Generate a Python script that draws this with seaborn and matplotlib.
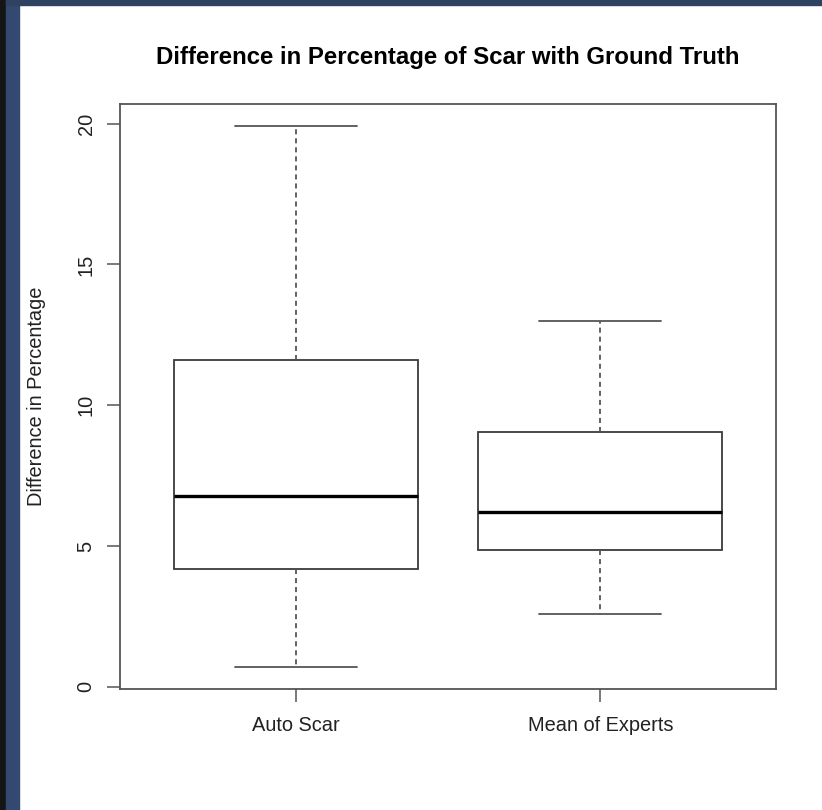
import pandas as pd
import matplotlib.pyplot as plt
import seaborn as sns
from matplotlib.patches import Rectangle

# Valeurs (min, Q1, médiane, Q3, max)
groupes = ["Auto Scar", "Mean of Experts"]
auto_scar = [0.69, 4.20, 6.78, 11.62, 19.93]
mean_experts = [2.57, 4.85, 6.19, 9.05, 13.00]
yticks = [0, 5, 10, 15, 20]

df = pd.DataFrame({
    "groupe": [groupes[0]] * len(auto_scar) + [groupes[1]] * len(mean_experts),
    "diff": auto_scar + mean_experts,
})

sns.set_theme(style="ticks")
plt.rcParams['font.family'] = ['Liberation Sans', 'DejaVu Sans']

fig = plt.figure(figsize=(8.22, 8.10), dpi=100)
fig.patch.set_facecolor("white")
ax = fig.add_axes([120/822, 1 - 689/810, (776 - 120)/822, (689 - 104)/810])

lc = "#3a3a3a"
sns.boxplot(data=df, x="groupe", y="diff", order=groupes, ax=ax,
            color="white", linecolor=lc, linewidth=1.3, width=0.8,
            medianprops=dict(color="black", linewidth=2.4),
            whiskerprops=dict(color="#555555", linestyle=(0, (2.8, 2.2)), linewidth=1.3),
            capprops=dict(color="#555555", linewidth=1.3))

ax.set_xlim(-0.577, 1.577)
ax.set_ylim(-0.08, 20.70)
ax.set_yticks(yticks)
ax.set_yticklabels([str(t) for t in yticks])

for s in ax.spines.values():
    s.set_visible(True)
    s.set_color("#555555")
    s.set_linewidth(1.3)

ax.tick_params(axis="both", length=9.5, width=1.1, color="#555555",
               labelsize=14.4, labelcolor="#222222", pad=10)
ax.tick_params(axis="y", labelrotation=90, pad=8)
plt.setp(ax.get_yticklabels(), va="center")

ax.set_xlabel("")
ax.set_ylabel("Difference in Percentage", fontsize=14.4, color="#222222")
ax.yaxis.set_label_coords(-0.113, 0.5)

fig.text(448/822, 1 - 64/810, "Difference in Percentage of Scar with Ground Truth",
         ha="center", va="baseline", fontsize=17.3, fontweight="bold", color="black")

# Bords sombres de la capture d'écran
fig.add_artist(Rectangle((0, 0), 6/822, 1, transform=fig.transFigure,
                         color="#151515", zorder=0))
fig.add_artist(Rectangle((6/822, 0), 13/822, 1, transform=fig.transFigure,
                         color="#33496f", zorder=0))
fig.add_artist(Rectangle((6/822, 1 - 4.7/810), 1, 4.7/810, transform=fig.transFigure,
                         color="#2f4262", zorder=0))

fig.savefig("out.png", dpi=100)
